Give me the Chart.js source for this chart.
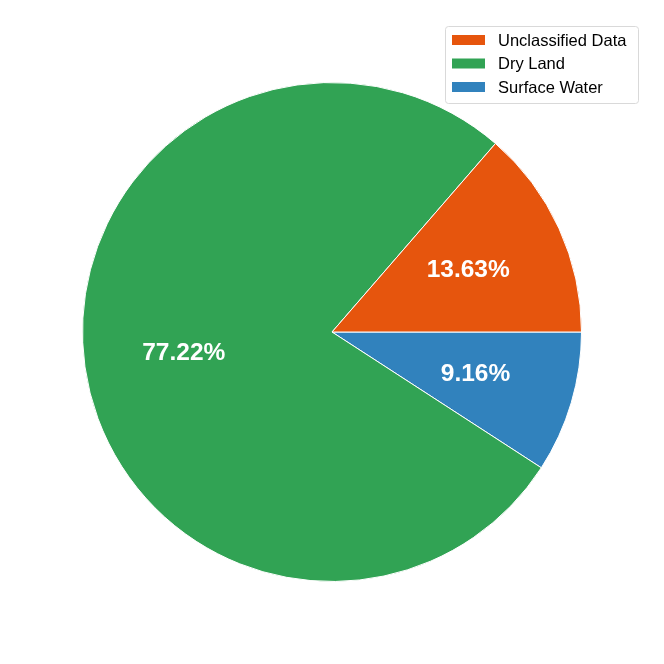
<!DOCTYPE html>
<html>
<head>
<meta charset="utf-8">
<script src="https://cdn.jsdelivr.net/npm/chart.js@4.4.1/dist/chart.umd.min.js"></script>
<style>
  html, body { margin: 0; padding: 0; background: #ffffff; }
  #wrap { width: 664px; height: 664px; }
</style>
</head>
<body>
<div id="wrap"><canvas id="pieChart" width="664" height="664"></canvas></div>
<script>
// Data (legend order)
const categories = ['Unclassified Data', 'Dry Land', 'Surface Water'];
const shares = [13.63, 77.22, 9.16];
const sliceColors = ['#e6550d', '#31a354', '#3182bd'];

// Chart.js draws clockwise, the reference runs counter-clockwise from 3 o'clock,
// so feed the slices reversed and keep the legend in the original order.
const drawLabels = categories.slice().reverse();
const drawValues = shares.slice().reverse();
const drawColors = sliceColors.slice().reverse();

// Percent labels inside each slice (at 0.6 of the radius)
const pctLabelPlugin = {
    id: 'pctLabels',
    afterDatasetsDraw(chart) {
        const ctx = chart.ctx;
        const meta = chart.getDatasetMeta(0);
        ctx.save();
        ctx.fillStyle = '#ffffff';
        ctx.font = 'bold 24.5px "Liberation Sans", Arial, sans-serif';
        ctx.textAlign = 'center';
        ctx.textBaseline = 'middle';
        meta.data.forEach((arc, i) => {
            const mid = (arc.startAngle + arc.endAngle) / 2;
            const r = arc.outerRadius * 0.6;
            const x = arc.x + Math.cos(mid) * r;
            const y = arc.y + Math.sin(mid) * r;
            ctx.fillText(drawValues[i].toFixed(2) + '%', x, y);
        });
        ctx.restore();
    }
};

// Boxed legend in the top right corner
const boxLegendPlugin = {
    id: 'boxLegend',
    afterDraw(chart) {
        const ctx = chart.ctx;
        const left = 445, top = 26, width = 193, height = 77;
        ctx.save();
        ctx.fillStyle = 'rgba(255,255,255,0.8)';
        ctx.strokeStyle = '#d9d9d9';
        ctx.lineWidth = 1;
        ctx.beginPath();
        ctx.roundRect(left + 0.5, top + 0.5, width, height, 3);
        ctx.fill();
        ctx.stroke();
        ctx.font = '16.5px "Liberation Sans", Arial, sans-serif';
        ctx.textBaseline = 'middle';
        ctx.textAlign = 'left';
        categories.forEach((name, i) => {
            const cy = 40 + i * 23.5;
            ctx.fillStyle = sliceColors[i];
            ctx.fillRect(452, cy - 5, 33, 10);
            ctx.fillStyle = '#000000';
            ctx.fillText(name, 498, cy + 1);
        });
        ctx.restore();
    }
};

new Chart(document.getElementById('pieChart'), {
    type: 'pie',
    data: {
        labels: drawLabels,
        datasets: [{
            data: drawValues,
            backgroundColor: drawColors,
            borderColor: '#ffffff',
            borderWidth: 1
        }]
    },
    options: {
        responsive: false,
        animation: false,
        rotation: 90,
        layout: { padding: 82 },
        plugins: {
            legend: { display: false },
            tooltip: { enabled: false }
        }
    },
    plugins: [pctLabelPlugin, boxLegendPlugin]
});
</script>
</body>
</html>
